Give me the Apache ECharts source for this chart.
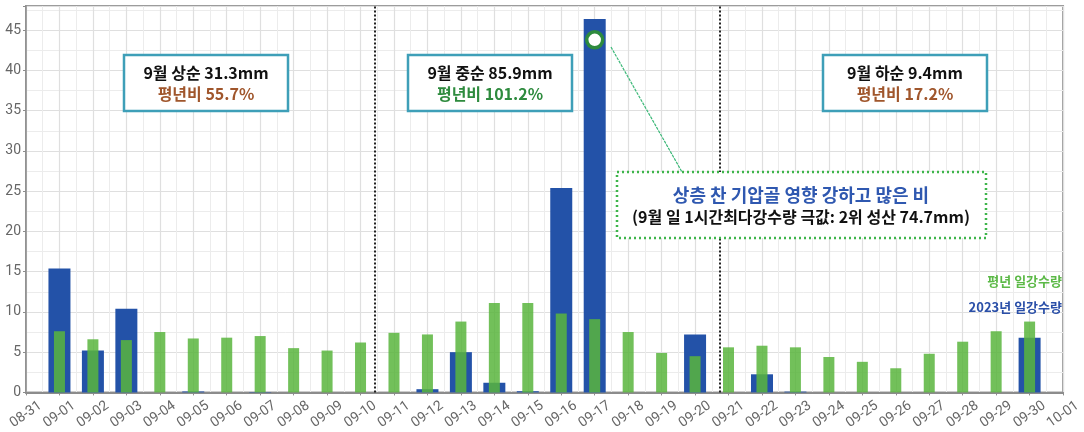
<!DOCTYPE html>
<html>
<head>
<meta charset="utf-8">
<script src="https://cdn.jsdelivr.net/npm/echarts@6/dist/echarts.min.js"></script>
<style>
html, body { margin: 0; padding: 0; background: #fff; }
#chart { width: 1084px; height: 432px; }
</style>
</head>
<body>
<div id="chart"></div>
<script>
// 날짜 (08-31 ~ 10-01)
const days = ['08-31',
  '09-01','09-02','09-03','09-04','09-05','09-06','09-07','09-08','09-09','09-10',
  '09-11','09-12','09-13','09-14','09-15','09-16','09-17','09-18','09-19','09-20',
  '09-21','09-22','09-23','09-24','09-25','09-26','09-27','09-28','09-29','09-30',
  '10-01'];
// 2023년 일강수량 (mm)
const rain2023 = [null,
  15.4, 5.2, 10.4, 0, 0.12, 0, 0.05, 0, 0, 0,
  0, 0.4, 5.0, 1.2, 0.15, 25.4, 46.4, 0, 0, 7.2,
  0, 2.25, 0.1, 0, 0, 0, 0, 0, 0, 6.8,
  null];
// 평년 일강수량 (mm)
const rainNormal = [null,
  7.6, 6.6, 6.5, 7.5, 6.7, 6.8, 7.0, 5.5, 5.2, 6.2,
  7.4, 7.2, 8.8, 11.1, 11.1, 9.8, 9.1, 7.5, 4.9, 4.5,
  5.6, 5.8, 5.6, 4.4, 3.8, 3.0, 4.8, 6.3, 7.6, 8.8,
  null];
// 순별 요약
const periodText = ['9월 상순 31.3mm', '9월 중순 85.9mm', '9월 하순 9.4mm'];
const ratioText = ['평년비 55.7%', '평년비 101.2%', '평년비 17.2%'];
const ratioColor = ['#a0562c', '#2e8b3e', '#a0562c'];

const kr = '"Noto Sans CJK KR", "Noto Sans", sans-serif';
const narrow = '"Liberation Sans Narrow", "Roboto", sans-serif';

let myChart = echarts.init(document.getElementById('chart'));

// 요약 박스
function summaryBox(x, y, i) {
  return [
    { type: 'rect', z: 100, shape: { x: x, y: y, width: 164, height: 56 },
      style: { fill: '#fff', stroke: '#3e9fb8', lineWidth: 2.5 } },
    { type: 'text', z: 101, x: x + 82, y: y + 18,
      style: { text: periodText[i], font: 'bold 16px ' + kr, fill: '#111', align: 'center', verticalAlign: 'middle' } },
    { type: 'text', z: 101, x: x + 82, y: y + 39,
      style: { text: ratioText[i], font: 'bold 16px ' + kr, fill: ratioColor[i], align: 'center', verticalAlign: 'middle' } }
  ];
}

myChart.setOption({
  animation: false,
  textStyle: { fontFamily: kr },
  grid: { left: 26, right: 14, top: 6, bottom: 35, show: true, borderColor: '#9c9c9c', borderWidth: 2 },
  xAxis: [
    {
      type: 'category', data: days, boundaryGap: false,
      axisLine: { lineStyle: { color: '#8c8c8c', width: 2 } },
      axisTick: { show: true, length: 3, interval: 0, lineStyle: { color: '#8c8c8c' } },
      axisLabel: {
        interval: 0, rotate: 35, align: 'center', verticalAlign: 'middle', margin: 22,
        color: '#666', fontSize: 14, fontFamily: narrow
      },
      splitLine: { show: false }
    },
    { type: 'category', data: days, boundaryGap: false, show: false },
    {
      type: 'value', min: 0, max: 31, interval: 1,
      axisLine: { show: false }, axisTick: { show: false }, axisLabel: { show: false },
      splitLine: { show: true, lineStyle: { color: '#dfdfdf', width: 1.2 } },
      minorTick: { show: false, splitNumber: 2 },
      minorSplitLine: { show: true, lineStyle: { color: '#ececec', width: 1 } }
    }
  ],
  yAxis: {
    type: 'value', min: 0, max: 48, interval: 5,
    axisLine: { show: true, lineStyle: { color: '#8c8c8c', width: 1.5 } },
    axisTick: { show: true, length: 3, lineStyle: { color: '#8c8c8c' } },
    axisLabel: {
      color: '#666', fontSize: 14, fontFamily: narrow, margin: 5,
      formatter: function (v) { return v % 5 === 0 ? v : ''; }
    },
    splitLine: { lineStyle: { color: '#dfdfdf', width: 1.2 } },
    minorTick: { show: false, splitNumber: 2 },
    minorSplitLine: { show: true, lineStyle: { color: '#ececec', width: 1 } }
  },
  series: [
    {
      name: '2023년 일강수량', type: 'bar', xAxisIndex: 0, data: rain2023,
      barWidth: 22, itemStyle: { color: '#2352a8' },
      markPoint: {
        silent: true, symbol: 'circle', symbolSize: 16, label: { show: false },
        itemStyle: { color: '#fff', borderColor: '#2e8b3e', borderWidth: 3.5 },
        data: [{ coord: ['09-17', 43.8] }]
      }
    },
    {
      name: '평년 일강수량', type: 'bar', xAxisIndex: 1, data: rainNormal,
      barWidth: 11, itemStyle: { color: '#59b53d', opacity: 0.85 }
    },
    {
      // 순 구분선
      type: 'line', xAxisIndex: 2, data: [], silent: true,
      markLine: {
        symbol: 'none', silent: true, label: { show: false },
        lineStyle: { type: [2, 2], color: '#222', width: 2 },
        data: [{ xAxis: 10.43 }, { xAxis: 20.73 }]
      }
    }
  ],
  graphic: [].concat(
    summaryBox(124, 55, 0),
    summaryBox(408, 55, 1),
    summaryBox(823, 55, 2),
    [
      { type: 'line', z: 99, shape: { x1: 611, y1: 47, x2: 682, y2: 172 },
        style: { stroke: '#3cb878', lineWidth: 1.2, lineDash: [3, 1] } },
      { type: 'rect', z: 100, shape: { x: 617, y: 172, width: 369, height: 66 },
        style: { fill: '#fff', stroke: '#3db54a', lineWidth: 2.5, lineDash: [2, 3] } },
      { type: 'text', z: 101, x: 801, y: 195,
        style: { text: '상층 찬 기압골 영향 강하고 많은 비', font: 'bold 18px ' + kr, fill: '#2f58b0', align: 'center', verticalAlign: 'middle' } },
      { type: 'text', z: 101, x: 801, y: 217,
        style: { text: '(9월 일 1시간최다강수량 극값: 2위 성산 74.7mm)', font: 'bold 16px ' + kr, fill: '#111', align: 'center', verticalAlign: 'middle' } },
      { type: 'text', z: 101, x: 1062, y: 281,
        style: { text: '평년 일강수량', font: 'bold 13px ' + kr, fill: '#5cb947', align: 'right', verticalAlign: 'middle' } },
      { type: 'text', z: 101, x: 1062, y: 307,
        style: { text: '2023년 일강수량', font: 'bold 13px ' + kr, fill: '#2a4fa8', align: 'right', verticalAlign: 'middle' } }
    ]
  )
});
</script>
</body>
</html>
